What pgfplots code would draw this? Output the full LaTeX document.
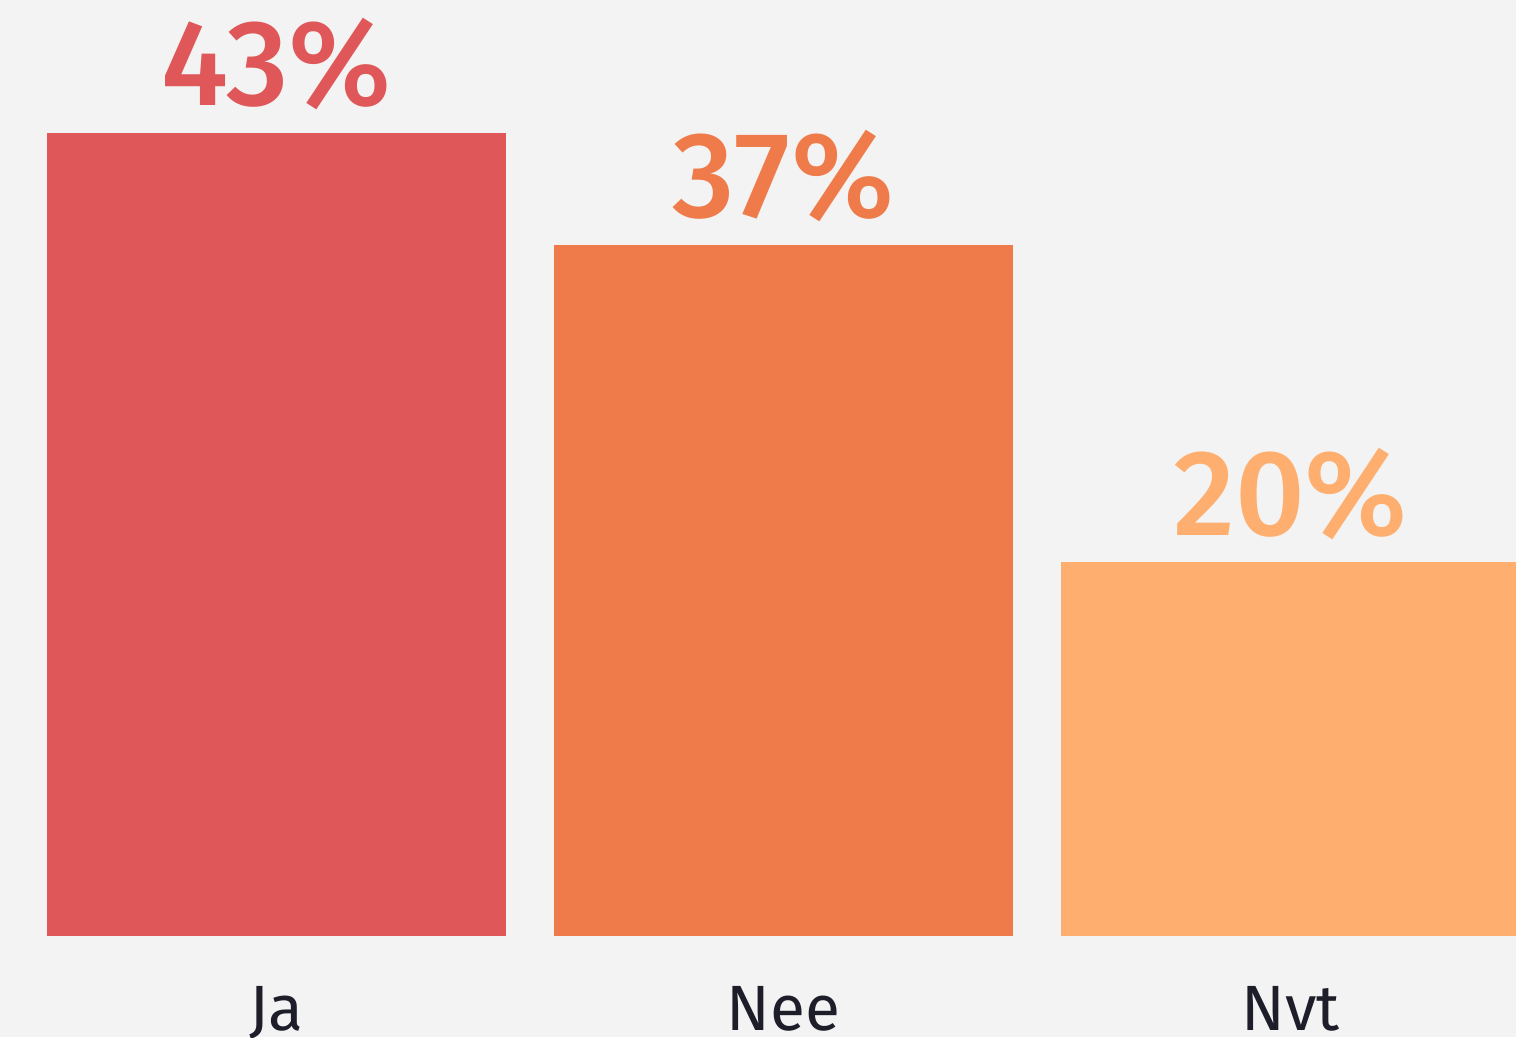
\documentclass[border=0pt]{standalone}
\usepackage{fontspec}
\setmainfont{Fira Sans}
\newfontfamily\medfont{Fira Sans Medium}
\usepackage{pgfplots}
\pgfplotsset{compat=1.18}
\definecolor{cja}{HTML}{DF5758}
\definecolor{cnee}{HTML}{EF7B4B}
\definecolor{cnvt}{HTML}{FEAF6F}
\definecolor{ctext}{HTML}{1E1E2A}
\definecolor{cbg}{HTML}{F3F3F3}
\begin{document}
\begin{tikzpicture}
\fill[cbg] (0,-25.25pt) rectangle (379pt,234pt);
\begin{axis}[
  at={(0,0)}, anchor=south west,
  scale only axis, width=379pt, height=234pt,
  xmin=-0.5454, xmax=2.4448, ymin=0, ymax=50.1,
  axis line style={draw=none}, tick style={draw=none},
  ytick=\empty, xtick={0,1,2}, xticklabels={Ja,Nee,Nvt},
  xticklabel style={font=\fontsize{16}{18}\selectfont, text=ctext, yshift=-4.75pt},
  ybar, bar width=114.75pt, bar shift=0pt,
  /pgf/number format/assume math mode=true,
  nodes near coords={\pgfmathprintnumber{\pgfplotspointmeta}\%},
  every node near coord/.append style={font=\fontsize{30.5}{34}\selectfont\medfont, inner sep=0pt, yshift=5.5pt, anchor=south},
]
\addplot[fill=cja, draw=none, every node near coord/.append style={text=cja}] coordinates {(0,43)};
\addplot[fill=cnee, draw=none, every node near coord/.append style={text=cnee}] coordinates {(1,37)};
\addplot[fill=cnvt, draw=none, every node near coord/.append style={text=cnvt}] coordinates {(2,20)};
\end{axis}
\pgfresetboundingbox
\useasboundingbox (0,-25.25pt) rectangle (379pt,234pt);
\end{tikzpicture}
\end{document}
